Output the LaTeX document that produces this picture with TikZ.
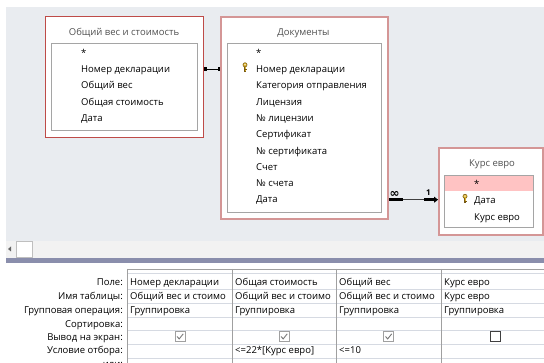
\documentclass[tikz,border=0pt]{standalone}
\usepackage{fontspec}
\setmainfont{Open Sans}
\newfontfamily\symfont{DejaVu Sans}
\usetikzlibrary{arrows.meta,calc}
\definecolor{bg}{RGB}{233,236,240}
\definecolor{tblred}{RGB}{190,75,72}
\definecolor{tblpink}{RGB}{212,150,150}
\definecolor{innerc}{RGB}{165,165,165}
\definecolor{rowpink}{RGB}{255,195,195}
\definecolor{sepc}{RGB}{138,142,172}
\definecolor{gridh}{RGB}{214,218,226}
\definecolor{gridv}{RGB}{160,160,160}
\definecolor{titlec}{RGB}{80,80,80}
\definecolor{keygold}{RGB}{222,180,40}
\definecolor{keydark}{RGB}{120,90,20}
\definecolor{stripc}{RGB}{242,242,242}
\definecolor{checkc}{RGB}{120,120,120}
\begin{document}
\begin{tikzpicture}[x=1pt,y=-1pt,
  font=\fontsize{9.5}{11}\selectfont,
  outerbox/.style={draw=tblred, line width=1pt, fill=white, anchor=north west, inner sep=0pt},
  outerboxsel/.style={draw=tblpink, line width=1.6pt, fill=white, anchor=north west, inner sep=0pt},
  innerbox/.style={draw=innerc, line width=0.9pt, fill=white, anchor=north west, inner sep=0pt},
  ttl/.style={text=titlec, inner sep=0pt, text height=8pt, text depth=1.5pt},
  fld/.style={anchor=west, inner sep=0pt, text height=8pt, text depth=1.5pt},
  lab/.style={anchor=east, inner sep=0pt, text height=8pt, text depth=1.5pt},
  cell/.style={anchor=west, inner sep=0pt, text height=8pt, text depth=1.5pt},
  chk/.style={draw=gridv, line width=0.7pt, minimum size=10pt, inner sep=0pt},
  unchk/.style={draw=black!75, line width=0.8pt, minimum size=10pt, inner sep=0pt},
  keyicon/.pic={
    \draw[keydark, line width=0.5pt, fill=keygold] (0,-2.2) circle (2.1pt);
    \fill[white] (0,-2.4) circle (0.7pt);
    \draw[keydark, line width=1.6pt] (0,0) -- (0,4.6);
    \draw[keygold, line width=0.8pt] (0,0) -- (0,4.4);
    \draw[keydark, line width=0.9pt] (0,2.6) -- (1.6,2.6) (0,4.1) -- (1.4,4.1);
  }]
\useasboundingbox (0,0) rectangle (544,363);
\clip (0,0) rectangle (544,363);
% backgrounds
\fill[white] (0,0) rectangle (544,363);
\fill[bg] (6,7) rectangle (544,241);
\fill[stripc] (6,241) rectangle (544,258);
\fill[sepc] (6,258) rectangle (544,263);
% scroll strip
\fill[black!60] (8,249) -- (11,246.5) -- (11,251.5) -- cycle;
\node[draw=black!25, fill=white, line width=0.8pt, minimum width=16pt, minimum height=16pt, anchor=north west, inner sep=0pt] (scrollbox) at (16,241) {};

% ---------- Table 1 ----------
\node[outerbox, minimum width=158pt, minimum height=121pt] (t1) at (45,16) {};
\node[innerbox, minimum width=146pt, minimum height=87pt] (t1in) at (51,43) {};
\node[ttl] (t1t) at (124,32) {Общий вес и стоимость};
\node[fld] (f1star) at (81,53) {*};
\node[fld] (f1num) at (81,69.3) {Номер декларации};
\node[fld] (f1wt) at (81,85.7) {Общий вес};
\node[fld] (f1cost) at (81,102) {Общая стоимость};
\node[fld] (f1date) at (81,118.4) {Дата};

% ---------- Table 2 ----------
\node[outerboxsel, minimum width=167pt, minimum height=202pt] (t2) at (220,16) {};
\node[innerbox, minimum width=154pt, minimum height=169pt] (t2in) at (227,43) {};
\node[ttl] (t2t) at (303.5,32) {Документы};
\node[fld] (f2star) at (256,53) {*};
\node[fld] (f2num) at (256,69.3) {Номер декларации};
\node[fld] (f2cat) at (256,85.6) {Категория отправления};
\node[fld] (f2lic) at (256,101.9) {Лицензия};
\node[fld] (f2licn) at (256,118.2) {№ лицензии};
\node[fld] (f2cert) at (256,134.5) {Сертификат};
\node[fld] (f2certn) at (256,150.8) {№ сертификата};
\node[fld] (f2bill) at (256,167.1) {Счет};
\node[fld] (f2billn) at (256,183.4) {№ счета};
\node[fld] (f2date) at (256,199.7) {Дата};
\pic at (245,67) {keyicon};

% ---------- Table 3 ----------
\node[outerboxsel, minimum width=104pt, minimum height=87pt] (t3) at (438,147) {};
\node[innerbox, minimum width=89pt, minimum height=52pt] (t3in) at (444,175) {};
\fill[rowpink] (445,176.5) rectangle (532.5,191);
\node[ttl] (t3t) at (492,163) {Курс евро};
\node[fld] (f3star) at (474,184) {*};
\node[fld] (f3date) at (474,200.7) {Дата};
\node[fld] (f3rate) at (474,217) {Курс евро};
\pic at (465,198.5) {keyicon};

% ---------- connectors ----------
\draw[black, line width=1.2pt] (t1.east |- f1num) -- (t2.west |- f1num);
\fill[black] ($(t1.east |- f1num)+(0,-2)$) rectangle ++(2.5,4);
\fill[black] ($(t2.west |- f1num)+(-2.5,-2)$) rectangle ++(2.5,4);

\coordinate (c2a) at (t2.east |- f2date);
\coordinate (c2b) at (t3.west |- f2date);
\draw[black!75, line width=1pt] (c2a) -- (c2b);
\draw[black, line width=2.6pt] (c2a) -- ++(14,0);
\draw[black, line width=2.6pt, -{Triangle[length=4pt,width=6pt]}] ($(c2b)+(-14,0)$) -- (c2b);
\node[inner sep=0pt, font=\symfont\bfseries\fontsize{12}{12}\selectfont] (linf) at (394.5,194.5) {∞};
\node[inner sep=0pt, font=\bfseries\fontsize{8}{8}\selectfont] (lone) at (428.5,193) {1};

% ---------- grid ----------
\draw[gridv, line width=0.8pt] (127,269) -- (544,269);
\draw[gridh, line width=0.7pt] (127,273) -- (544,273);
\foreach \yy in {289,303,317,330.5,344,358} {
  \draw[gridh, line width=0.7pt] (127,\yy) -- (544,\yy);
}
\foreach \xx in {127,232,336,441} {
  \draw[gridv, line width=0.8pt] (\xx,269) -- (\xx,363);
}
% row labels
\node[lab] (lf) at (123,282) {Поле:};
\node[lab] (lt) at (123,296) {Имя таблицы:};
\node[lab] (lg) at (123,310) {Групповая операция:};
\node[lab] (ls) at (123,324) {Сортировка:};
\node[lab] (lv) at (123,337.5) {Вывод на экран:};
\node[lab] (lc) at (123,350.5) {Условие отбора:};
\node[lab] (lo) at (123,364.5) {или:};

% column 1
\begin{scope}
\clip (127,274) rectangle (231.5,363);
\node[cell] (c1a) at (130,282) {Номер декларации};
\node[cell] (c1b) at (130,296) {Общий вес и стоимо};
\node[cell] (c1c) at (130,310) {Группировка};
\end{scope}
% column 2
\begin{scope}
\clip (232,274) rectangle (335.5,363);
\node[cell] (c2a) at (235,282) {Общая стоимость};
\node[cell] (c2b) at (235,296) {Общий вес и стоимо};
\node[cell] (c2c) at (235,310) {Группировка};
\node[cell] (c2e) at (235,350.5) {<=22*[Курс евро]};
\end{scope}
% column 3
\begin{scope}
\clip (336,274) rectangle (440.5,363);
\node[cell] (c3a) at (339,282) {Общий вес};
\node[cell] (c3b) at (339,296) {Общий вес и стоимо};
\node[cell] (c3c) at (339,310) {Группировка};
\node[cell] (c3e) at (339,350.5) {<=10};
\end{scope}
% column 4
\begin{scope}
\clip (441,274) rectangle (544,363);
\node[cell] (c4a) at (444,282) {Курс евро};
\node[cell] (c4b) at (444,296) {Курс евро};
\node[cell] (c4c) at (444,310) {Группировка};
\end{scope}
% checkboxes
\foreach \cx/\nm in {180/k1,284/k2,388.5/k3} {
  \node[chk, fill=white] (\nm) at (\cx,336.5) {};
  \draw[checkc, line width=0.9pt] ($(\nm.center)+(-3,0)$) -- ($(\nm.center)+(-0.8,2.4)$) -- ($(\nm.center)+(3.2,-2.6)$);
}
\node[unchk, fill=white] (k4) at (495,336.5) {};
\end{tikzpicture}
\end{document}
